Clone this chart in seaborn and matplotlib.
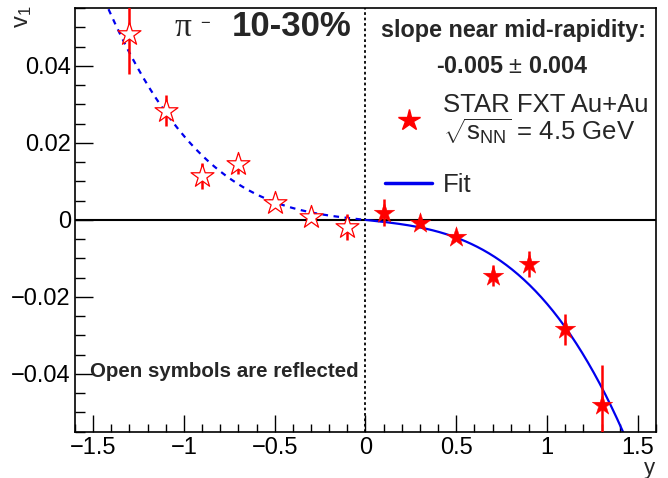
import numpy as np
import pandas as pd
import matplotlib
matplotlib.use("Agg")
import matplotlib.pyplot as plt
from matplotlib import font_manager as fm
import seaborn as sns
from matplotlib.ticker import MultipleLocator
from matplotlib.lines import Line2D

# ---- data ----
rapidity = [0.1, 0.3, 0.5, 0.7, 0.9, 1.1, 1.3]
v1 = [0.0019, -0.0007, -0.0045, -0.0145, -0.0114, -0.0284, -0.0482]
v1_err = [0.0034, 0.0010, 0.0008, 0.0027, 0.0033, 0.0040, 0.0104]
# fit: v1 = p1*y + p3*y^3
fit_p1 = -0.005
fit_p3 = -0.0168
x_ticks = [-1.5, -1, -0.5, 0, 0.5, 1, 1.5]
x_ticklabels = ["\u22121.5", "\u22121", "\u22120.5", "0", "0.5", "1", "1.5"]
y_ticks = [-0.04, -0.02, 0, 0.02, 0.04]
y_ticklabels = ["\u22120.04", "\u22120.02", "0", "0.02", "0.04"]

# avoid matplotlib picking the Narrow variant of Liberation Sans
fm.fontManager.ttflist = [f for f in fm.fontManager.ttflist
                          if "Narrow" not in f.fname]
try:
    fm._findfont_cached.cache_clear()
except Exception:
    pass

sns.set_theme(style="ticks")
plt.rcParams["font.family"] = ["Liberation Sans", "DejaVu Sans"]
plt.rcParams["mathtext.fontset"] = "custom"
plt.rcParams["mathtext.rm"] = "Liberation Sans"
plt.rcParams["mathtext.it"] = "Liberation Sans"
plt.rcParams["mathtext.bf"] = "Liberation Sans:bold"

df = pd.DataFrame({"y": rapidity, "v1": v1, "err": v1_err})
refl = pd.DataFrame({"y": -df["y"], "v1": -df["v1"], "err": df["err"]})

fig = plt.figure(figsize=(6.68, 4.78), dpi=100)
ax = fig.add_axes([0.1123, 0.0969, 0.8697, 0.8861])

xlim = (-1.6, 1.6)
ylim = (-0.055, 0.055)

# fit curves
xf = np.linspace(0, 1.6, 300)
fit_df = pd.DataFrame({"y": xf, "v1": fit_p1 * xf + fit_p3 * xf ** 3})
fit_refl = pd.DataFrame({"y": -xf, "v1": -(fit_p1 * xf + fit_p3 * xf ** 3)})

ax.axhline(0, color="black", lw=1.5, zorder=1)
ax.axvline(0, color="black", lw=1.3, ls=(0, (1.5, 1.5)), zorder=1)

sns.lineplot(data=fit_df, x="y", y="v1", ax=ax, color="#0000ee", lw=1.6, zorder=2)
sns.lineplot(data=fit_refl, x="y", y="v1", ax=ax, color="#0000ee", lw=1.6,
             zorder=2, linestyle=(0, (2.5, 2.5)))

# error bars
ax.errorbar(df["y"], df["v1"], yerr=df["err"], fmt="none", ecolor="red",
            elinewidth=1.8, capsize=0, zorder=3)
ax.errorbar(refl["y"], refl["v1"], yerr=refl["err"], fmt="none", ecolor="red",
            elinewidth=1.8, capsize=0, zorder=3)

sns.scatterplot(data=df, x="y", y="v1", ax=ax, marker="*", s=240,
                color="red", edgecolor="red", linewidth=0.3, zorder=4)
sns.scatterplot(data=refl, x="y", y="v1", ax=ax, marker="*", s=300,
                facecolor="white", edgecolor="red", linewidth=0.9, zorder=4)

ax.set_xlim(*xlim)
ax.set_ylim(*ylim)
ax.set_xticks(x_ticks)
ax.set_xticklabels(x_ticklabels)
ax.set_yticks(y_ticks)
ax.set_yticklabels(y_ticklabels)
ax.xaxis.set_minor_locator(MultipleLocator(0.1))
ax.yaxis.set_minor_locator(MultipleLocator(0.005))
ax.tick_params(which="major", direction="in", length=12, width=1.0,
               labelsize=17, color="black", labelcolor="black", pad=4)
ax.tick_params(which="minor", direction="in", length=6, width=1.0, color="black")
ax.tick_params(axis="y", which="major", length=13, pad=3)
ax.tick_params(axis="y", which="minor", length=7)
for s in ax.spines.values():
    s.set_linewidth(1.2)
    s.set_color("black")

ax.set_xlabel("")
ax.set_ylabel("")
fig.text(0.981, 0.0085, "y", fontsize=16, ha="right", va="baseline")
fig.text(0.018, 0.988, "v$_{1}$", fontsize=17, ha="left", va="top", rotation=90)

ax.text(0.172, 0.934, "\u03c0", transform=ax.transAxes, fontsize=24,
        ha="left", va="baseline", family="Liberation Serif")
ax.text(0.2155, 0.9646, "\u2212", transform=ax.transAxes, fontsize=12,
        ha="left", va="center")
ax.text(0.270, 0.934, "10-30%", transform=ax.transAxes, fontsize=25,
        fontweight="bold", ha="left", va="baseline")
ax.text(0.754, 0.9315, "slope near mid-rapidity:", transform=ax.transAxes,
        fontsize=16.8, fontweight="bold", ha="center", va="baseline")
ax.text(0.752, 0.8466, "-0.005 $\\pm$ 0.004",
        transform=ax.transAxes, fontsize=16.8, fontweight="bold",
        ha="center", va="baseline")
ax.text(0.026, 0.1289, "Open symbols are reflected", transform=ax.transAxes,
        fontsize=14.8, fontweight="bold", ha="left", va="baseline")

handles = [
    Line2D([], [], marker="*", color="red", ls="none", markersize=16),
    Line2D([], [], color="#0000ee", lw=2.5),
]
labels = ["STAR FXT Au+Au\n$\\sqrt{s_{NN}}$ = 4.5 GeV", "Fit"]
leg = ax.legend(handles, labels, loc="upper left", bbox_to_anchor=(0.5336, 0.800),
                frameon=False, fontsize=18.5, handlelength=1.83, labelspacing=1.03,
                handletextpad=0.43, borderaxespad=0, borderpad=0)
for t in leg.get_texts():
    t.set_linespacing(1.0)

fig.savefig("out.png", dpi=100)
